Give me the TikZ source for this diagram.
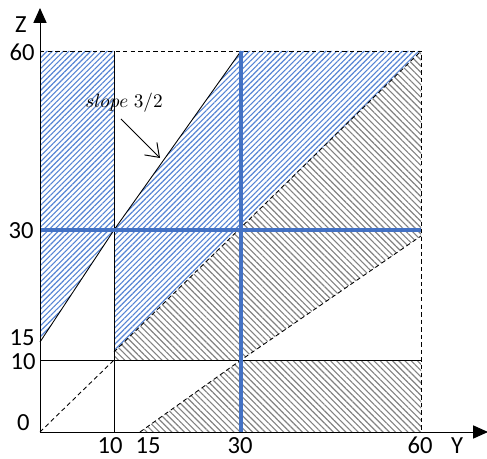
\documentclass[tikz,border=0pt]{standalone}
\usepackage{fontspec}
\setmainfont{Carlito}
\usepackage{tikz}
\usetikzlibrary{
    arrows.meta,
    patterns.meta
}
\definecolor{officeblue}{RGB}{68,114,196}
\definecolor{hatchblue}{RGB}{86,132,212}
\definecolor{hatchgray}{RGB}{130,130,130}
\tikzset
{
  bluezone/.style={pattern={Lines[angle=45,distance=2.2pt,line width=0.65pt]},pattern color=hatchblue},
  grayzone/.style={pattern={Lines[angle=-45,distance=2.5pt,line width=0.65pt]},pattern color=hatchgray},
  border/.style={draw=black,line width=0.5pt,dash pattern=on 2.5pt off 1.8pt},
  level/.style={draw=black,line width=0.5pt},
  bluebar/.style={draw=officeblue,line width=1.8pt},
  axis/.style={draw=black,line width=0.55pt,-{Triangle[length=8.5pt,width=7.5pt]}},
  pointer/.style={draw=black,line width=0.55pt,-{Straight Barb[length=7pt,width=10pt]}},
  ticklabel/.style={font=\fontsize{14}{16}\selectfont,inner sep=0pt,text height=0.63em,text depth=0pt}
}

\begin{document}
\begin{tikzpicture}[x=0.02cm,y=-0.02cm]
        \useasboundingbox (0,0) rectangle (487,459);

        % Key points (pixel grid, y pointing down)
        \coordinate (O) at (40,432);
        \coordinate (y10) at (114,432);
        \coordinate (y15) at (140,432);
        \coordinate (y30) at (241,432);
        \coordinate (y60) at (421,432);
        \coordinate (z10) at (40,360);
        \coordinate (z15) at (40,342);
        \coordinate (z30) at (40,230);
        \coordinate (z60) at (40,51);
        \coordinate (t10) at (114,51);
        \coordinate (t30) at (241,51);
        \coordinate (t60) at (421,51);
        \coordinate (c1030) at (114,230);
        \coordinate (c1010) at (114,360);
        \coordinate (d10) at (114,352);
        \coordinate (c3010) at (241,360);
        \coordinate (r6010) at (421,360);
        \coordinate (r6030) at (421,230);
        \coordinate (r6030d) at (421,236);
        \coordinate (yend) at (488,432);
        \coordinate (zend) at (40,8);

        % Hatched zones
        \fill[bluezone] (z60) -- (t10) -- (c1030) -- (z15) -- cycle;
        \fill[bluezone] (c1030) -- (t30) -- (t60) -- (d10) -- cycle;
        \fill[grayzone] (d10) -- (t60) -- (r6030d) -- (c3010) -- (c1010) -- cycle;
        \fill[grayzone] (y15) -- (c3010) -- (r6010) -- (y60) -- cycle;

        % Dashed borders and diagonals
        \draw[border] (z60) -- (t60) -- (y60);
        \draw[border] (O) -- (c1010);
        \draw[border] (d10) -- (t60);
        \draw[border] (y15) -- (c3010) -- (r6030d);

        % Thin levels and the slope line
        \draw[level] (y10) -- (t10);
        \draw[level] (z10) -- (r6010);
        \draw[level] (z15) -- (c1030) -- (t30);

        % Blue bars at 30
        \draw[bluebar] (y30) -- (t30);
        \draw[bluebar] (z30) -- (r6030);

        % Axes
        \draw[axis] (O) -- (yend);
        \draw[axis] (O) -- (zend);
        \node[ticklabel] (labY) at (457,448) {Y};
        \node[ticklabel] (labZ) at (21,27) {Z};

        % Tick labels
        \node[ticklabel,anchor=east] (z60lab) at (35,55) {60};
        \node[ticklabel,anchor=east] (z30lab) at (34,233) {30};
        \node[ticklabel,anchor=east] (z15lab) at (35,340) {15};
        \node[ticklabel,anchor=east] (z10lab) at (36,364) {10};
        \node[ticklabel,anchor=east] (z0lab) at (30,425) {0};
        \node[ticklabel] (y10lab) at (110,448) {10};
        \node[ticklabel] (y15lab) at (148,448) {15};
        \node[ticklabel] (y30lab) at (240,448) {30};
        \node[ticklabel] (y60lab) at (420,448) {60};

        % Slope note
        \node[font=\fontsize{11}{13}\selectfont] (slope) at (124,103) {$slope\;3/2$};
        \coordinate (tail) at (121,119);
        \coordinate (tip) at (160,158);
        \draw[pointer] (tail) -- (tip);
    \end{tikzpicture}
\end{document}
